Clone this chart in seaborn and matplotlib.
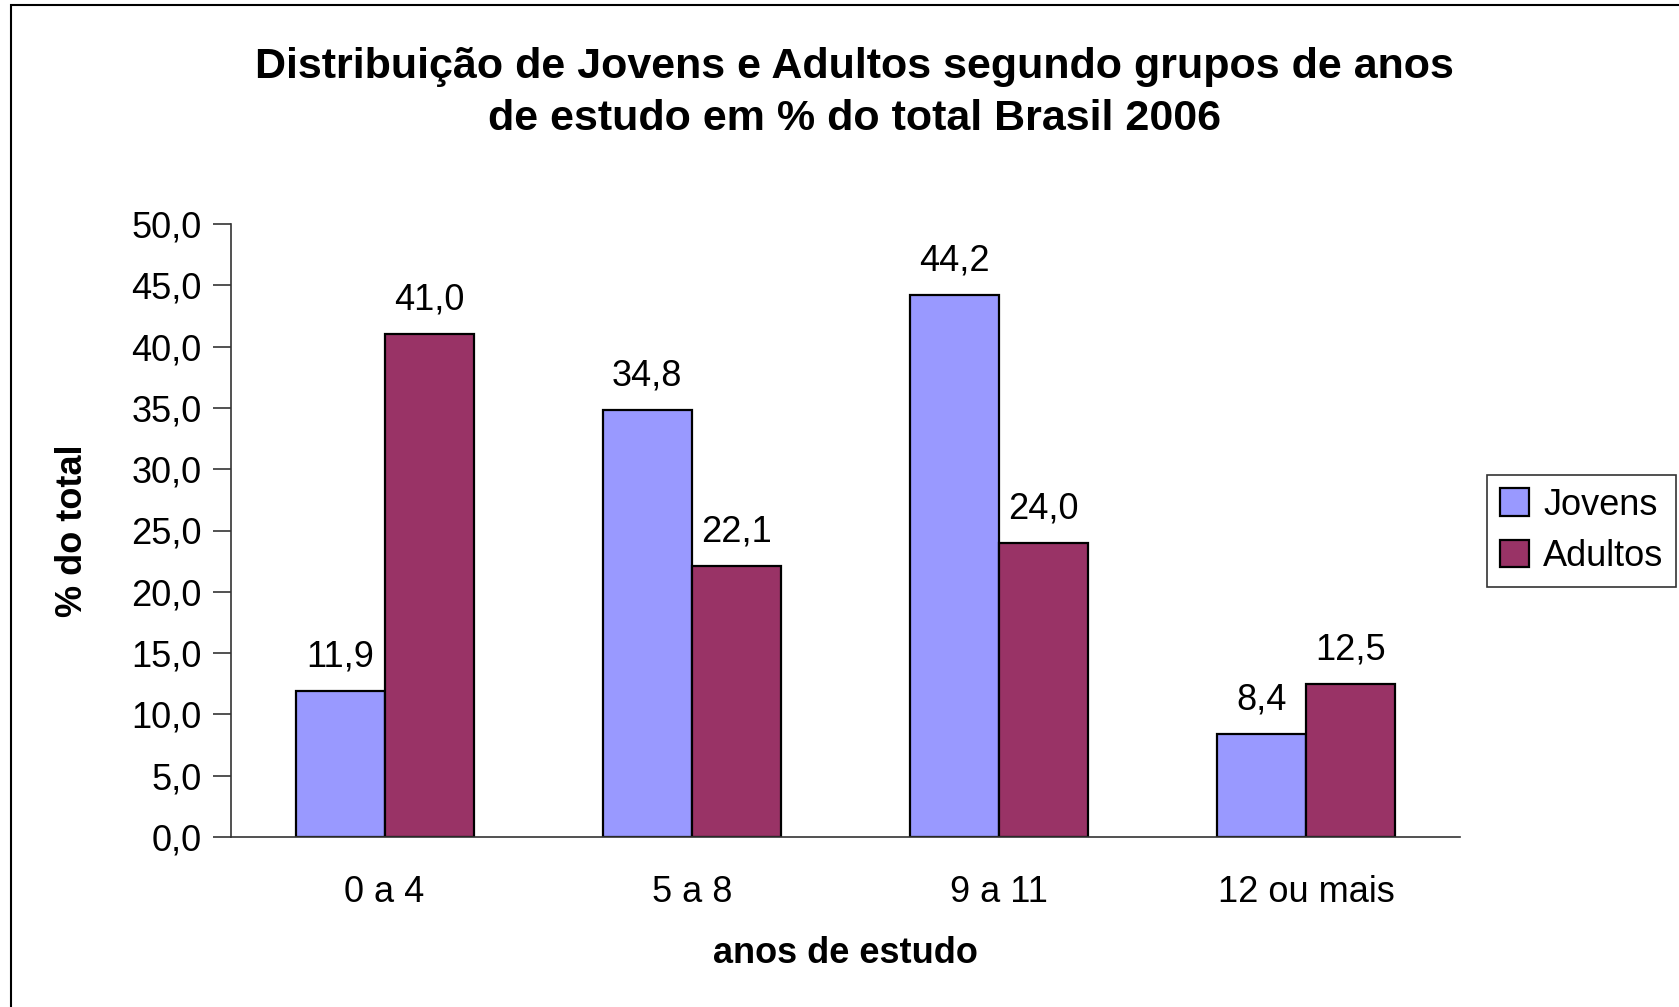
import pandas as pd
import matplotlib
matplotlib.use("Agg")
import matplotlib.pyplot as plt
import seaborn as sns
from matplotlib.patches import Rectangle

# Data
categorias = ["0 a 4", "5 a 8", "9 a 11", "12 ou mais"]
jovens = [11.9, 34.8, 44.2, 8.4]
adultos = [41.0, 22.1, 24.0, 12.5]
grupos = ["Jovens", "Adultos"]
cores = ["#9999FF", "#993366"]
yticks = [0, 5, 10, 15, 20, 25, 30, 35, 40, 45, 50]

df = pd.DataFrame({
    "categoria": categorias * 2,
    "valor": jovens + adultos,
    "grupo": [grupos[0]] * 4 + [grupos[1]] * 4,
})

sns.set_style("white")
plt.rcParams["font.family"] = ["Liberation Sans", "DejaVu Sans"]
plt.rcParams["text.color"] = "black"
plt.rcParams["axes.labelcolor"] = "black"
plt.rcParams["xtick.color"] = "black"
plt.rcParams["ytick.color"] = "black"

fig = plt.figure(figsize=(16.79, 10.07), dpi=100)
ax = fig.add_axes([231 / 1679, 1 - 837 / 1007, (1460 - 231) / 1679, (837 - 224) / 1007])

sns.barplot(data=df, x="categoria", y="valor", hue="grupo", order=categorias,
            hue_order=grupos, palette=cores, width=0.58, edgecolor="black",
            linewidth=1.6, saturation=1, ax=ax, legend=True, errorbar=None)

# value labels with decimal comma
for cont in ax.containers:
    ax.bar_label(cont, labels=[f"{v:.1f}".replace(".", ",") for v in cont.datavalues],
                 padding=12, fontsize=26)

ax.set_xlim(-0.5, 3.5)
ax.set_ylim(0, 50)
ax.set_yticks(yticks)
ax.set_yticklabels([f"{v:.1f}".replace(".", ",") for v in yticks], fontsize=26)
ax.set_xticks(range(4))
ax.set_xticklabels(categorias, fontsize=26)
ax.set_xticks([-0.5, 0.5, 1.5, 2.5, 3.5], minor=True)
ax.tick_params(axis="x", which="major", length=0, pad=27)
ax.tick_params(axis="x", which="minor", length=11, width=1.2, color="#333333", direction="out")
ax.tick_params(axis="y", length=13, width=1.2, color="#333333", direction="out", left=True, pad=8)

for s in ["top", "right"]:
    ax.spines[s].set_visible(False)
for s in ["left", "bottom"]:
    ax.spines[s].set_color("#333333")
    ax.spines[s].set_linewidth(1.2)

ax.set_xlabel("anos de estudo", fontsize=26, fontweight="bold", labelpad=19)
ax.set_ylabel("% do total", fontsize=26, fontweight="bold", labelpad=30)

fig.suptitle("Distribuição de Jovens e Adultos segundo grupos de anos\nde estudo em % do total Brasil 2006",
             x=854 / 1679, y=1 - 47 / 1007, va="top", fontsize=31, fontweight="bold", linespacing=1.4)

leg = ax.legend(loc="upper left", bbox_to_anchor=(1487 / 1679, 1 - 475 / 1007),
                bbox_transform=fig.transFigure, fontsize=26, frameon=True, fancybox=False,
                edgecolor="black", handlelength=0.8, handleheight=0.8, handletextpad=0.4,
                borderpad=0.35, labelspacing=0.45, borderaxespad=0)
leg.get_frame().set_linewidth(1.2)

# outer chart border (left and top visible, the rest is cut off)
fig.patches.append(Rectangle((11 / 1679, -0.1), 1.2, 1 - 5 / 1007 + 0.1, transform=fig.transFigure,
                             fill=False, edgecolor="black", linewidth=1.5))

fig.savefig("out.png", dpi=100)
